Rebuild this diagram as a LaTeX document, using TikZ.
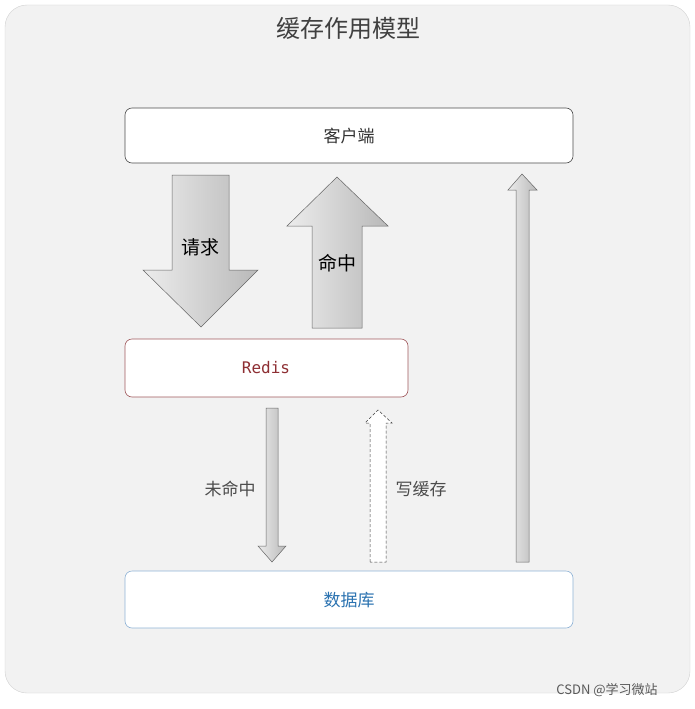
\documentclass[tikz,border=0pt]{standalone}
\usepackage{fontspec}
\setmainfont{Noto Sans CJK SC}
\newfontfamily\monof{DejaVu Sans Mono}
\definecolor{dbblue}{HTML}{2A72B0}
\definecolor{dbline}{HTML}{8FB3D6}
\definecolor{rdred}{HTML}{8E2F33}
\definecolor{rdline}{HTML}{A0585C}
\begin{document}
\begin{tikzpicture}[x=1pt,y=-1pt,
  box/.style={draw=#1,fill=white,rounded corners=7pt,line width=0.6pt},
  arr/.style={draw=gray!80!black,line width=0.5pt,left color=gray!15,right color=gray!55},
  lab/.style={font=\fontsize{17}{20}\selectfont}]
\useasboundingbox (0,0) rectangle (695,709);
\fill[white] (0,0) rectangle (695,709);
\draw[fill=gray!10,draw=gray!35,rounded corners=22pt] (5,5) rectangle (690,693);
\node[font=\fontsize{24}{28}\selectfont,text=black!75] (title) at (348,28) {缓存作用模型};
\draw[box=black!70] (125,108) rectangle (573,163);
\node[lab,text=black!80] (client) at (349,136) {客户端};
\draw[box=rdline] (125,339) rectangle (408,397);
\node[font=\monof\fontsize{16}{19}\selectfont,text=rdred] (redis) at (266,368) {Redis};
\draw[box=dbline] (125,571) rectangle (573,628);
\node[lab,text=dbblue] (db) at (349,600) {数据库};
% big arrows
\draw[arr] (172,175) -- (229,175) -- (229,270) -- (258,270) -- (201,327) -- (143,270) -- (172,270) -- cycle;
\node[font=\fontsize{19}{22}\selectfont] (req) at (200,247) {请求};
\draw[arr] (312,328) -- (312,226) -- (287,226) -- (337,177) -- (388,226) -- (362,226) -- (362,328) -- cycle;
\node[font=\fontsize{19}{22}\selectfont] (hit) at (337,263) {命中};
% thin arrows
\draw[arr] (266,408) -- (278,408) -- (278,546) -- (286,546) -- (272,562) -- (258,546) -- (266,546) -- cycle;
\node[lab,text=black!70] (miss) at (230,489) {未命中};
\draw[draw=black!75,fill=white,dash pattern=on 3pt off 2pt,line width=0.5pt] (370,562) -- (370,423) -- (365,423) -- (378,410) -- (392,423) -- (386,423) -- (386,562) -- cycle;
\node[lab,text=black!70] (wr) at (421,489) {写缓存};
\draw[arr] (516,562) -- (516,190) -- (508,190) -- (522,174) -- (537,190) -- (529,190) -- (529,562) -- cycle;
\node[font=\fontsize{13}{15}\selectfont,text=black!65] (wm) at (607,690) {CSDN @学习微站};
\end{tikzpicture}
\end{document}
